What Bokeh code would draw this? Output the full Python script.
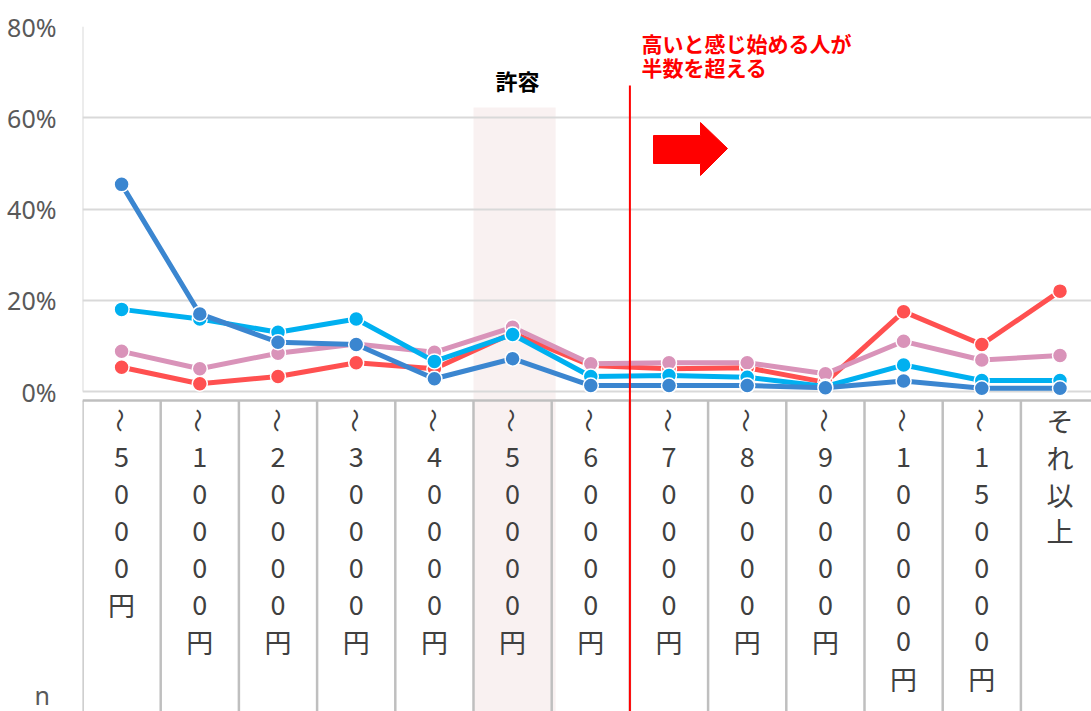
from bokeh.plotting import figure
from bokeh.models import Range1d, FixedTicker, NumeralTickFormatter, Label
from bokeh.core.properties import value
from bokeh.embed import file_html
from bokeh.resources import INLINE
import math

categories = ["～5000円", "～10000円", "～20000円", "～30000円", "～40000円", "～50000円",
              "～60000円", "～70000円", "～80000円", "～90000円", "～100000円", "～150000円", "それ以上"]

series_red = [0.053, 0.017, 0.033, 0.063, 0.050, 0.128, 0.057, 0.050, 0.052, 0.020, 0.175, 0.103, 0.220]
series_pink = [0.088, 0.050, 0.084, 0.104, 0.086, 0.141, 0.061, 0.063, 0.063, 0.039, 0.110, 0.069, 0.079]
series_cyan = [0.180, 0.159, 0.130, 0.159, 0.066, 0.125, 0.033, 0.035, 0.031, 0.011, 0.058, 0.024, 0.024]
series_blue = [0.454, 0.170, 0.108, 0.103, 0.028, 0.072, 0.013, 0.013, 0.013, 0.008, 0.023, 0.007, 0.007]

y_ticks = [0, 0.2, 0.4, 0.6, 0.8]
table_row_label = "n"

# layout: canvas pixels -> data units helpers for annotations
W, H = 1091, 711
LEFT, TOP = 82, 26
CELL = 78.2
PX_PER_UNIT = 456.25
Y0_PX = 391.0

def ux(px):
    return (px - LEFT) / CELL

def uy(py):
    return (Y0_PX - py) / PX_PER_UNIT

x_end = (W - LEFT) / CELL
y_bottom = uy(H)
n_tick = round(uy(703), 4)

p = figure(width=W, height=H, output_backend="svg", toolbar_location=None,
           x_range=Range1d(0, x_end), y_range=Range1d(y_bottom, 0.8),
           x_axis_location=None, y_axis_location="left",
           min_border_left=LEFT, min_border_right=0, min_border_top=TOP, min_border_bottom=0)
p.outline_line_color = None
p.background_fill_color = "white"
p.border_fill_color = "white"

p.xgrid.visible = False
p.ygrid.ticker = FixedTicker(ticks=y_ticks)
p.ygrid.grid_line_color = "#d9d9d9"
p.ygrid.grid_line_width = 2

ax = p.yaxis[0]
ax.ticker = FixedTicker(ticks=[n_tick] + y_ticks)
ax.formatter = NumeralTickFormatter(format="0%")
ax.major_label_overrides = {n_tick: table_row_label + "\u00a0"}
ax.axis_line_color = None
ax.major_tick_line_color = None
ax.minor_tick_line_color = None
ax.major_label_standoff = 20
ax.major_label_text_font = "Noto Sans"
ax.major_label_text_font_size = "25px"
ax.major_label_text_color = "#595959"

n = len(categories)
xs = [i + 0.5 for i in range(n)]

# highlight band (許容)
band = p.quad(left=5.0, right=6.05, top=uy(107), bottom=y_bottom, fill_color="#f9f1f1", line_color=None)
band.level = "image"

# left axis line
p.segment(x0=0, y0=0, x1=0, y1=0.8, line_color="#d9d9d9", line_width=2)

# data table borders
t_top = uy(400)
p.segment(x0=0, y0=t_top, x1=n, y1=t_top, line_color="#bfbfbf", line_width=2.5)
p.segment(x0=list(range(n + 1)), y0=[t_top] * (n + 1), x1=list(range(n + 1)), y1=[y_bottom] * (n + 1),
          line_color="#bfbfbf", line_width=2.5)

# category labels, stacked vertically
row0 = 420.0
row_step = 36.8
for i, cat in enumerate(categories):
    for j, ch in enumerate(cat):
        yy = uy(row0 + j * row_step)
        if ch == "～":
            p.text(x=[xs[i]], y=[yy], text=[ch], angle=-math.pi / 2, text_align="center",
                   text_baseline="middle", text_font=value("Noto Sans CJK JP"),
                   text_font_size="24px", text_color="#404040")
        else:
            p.text(x=[xs[i]], y=[yy], text=[ch], text_align="center", text_baseline="middle",
                   text_font=value("Noto Sans CJK JP"), text_font_size="27px", text_color="#404040")

# series
for vals, col in [(series_red, "#ff5050"), (series_pink, "#d993b9"),
                  (series_cyan, "#00b0f0"), (series_blue, "#3b86d0")]:
    p.line(xs, vals, line_color=col, line_width=5)
    p.scatter(xs, vals, size=15, fill_color=col, line_color="white", line_width=1.5)

# red threshold line
p.segment(x0=7, y0=uy(85), x1=7, y1=y_bottom, line_color="#ff0000", line_width=2)

# arrow
ax_px = [653, 700, 700, 727, 700, 700, 653]
ay_px = [135, 135, 122, 148, 175, 163, 163]
p.patch([ux(v) for v in ax_px], [uy(v) for v in ay_px], fill_color="#ff0000", line_color="#ff0000")

# texts
p.add_layout(Label(x=ux(517), y=uy(79), text="許容", text_align="center", text_baseline="middle",
                   text_font="Noto Sans CJK JP", text_font_style="bold", text_font_size="22px",
                   text_color="#000000"))
p.add_layout(Label(x=ux(641), y=uy(42), text="高いと感じ始める人が", text_align="left",
                   text_baseline="middle", text_font="Noto Sans CJK JP", text_font_style="bold",
                   text_font_size="21px", text_color="#ff0000"))
p.add_layout(Label(x=ux(641), y=uy(66), text="半数を超える", text_align="left",
                   text_baseline="middle", text_font="Noto Sans CJK JP", text_font_style="bold",
                   text_font_size="21px", text_color="#ff0000"))

open("out.html", "w").write(file_html(p, INLINE))
